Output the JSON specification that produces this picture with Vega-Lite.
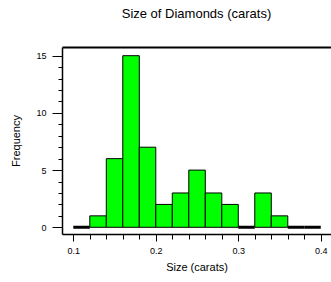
{
  "$schema": "https://vega.github.io/schema/vega-lite/v6.json",
  "autosize": "none",
  "padding": {"left": 62, "top": 47, "right": 0, "bottom": 48},
  "width": 269,
  "height": 187,
  "background": "white",
  "title": {"text": "Size of Diamonds (carats)", "fontSize": 13, "font": "Liberation Sans", "fontWeight": "normal", "color": "black", "anchor": "middle", "offset": 26},
  "config": {"view": {"stroke": null}, "axis": {"labelFont": "Liberation Sans", "titleFont": "Liberation Sans", "labelColor": "black", "titleColor": "black", "domainColor": "black", "tickColor": "black", "grid": false, "titleFontWeight": "normal"}},
  "data": {"values": [
    {"bin0": 0.10, "bin1": 0.12, "count": 0},
    {"bin0": 0.12, "bin1": 0.14, "count": 1},
    {"bin0": 0.14, "bin1": 0.16, "count": 6},
    {"bin0": 0.16, "bin1": 0.18, "count": 15},
    {"bin0": 0.18, "bin1": 0.20, "count": 7},
    {"bin0": 0.20, "bin1": 0.22, "count": 2},
    {"bin0": 0.22, "bin1": 0.24, "count": 3},
    {"bin0": 0.24, "bin1": 0.26, "count": 5},
    {"bin0": 0.26, "bin1": 0.28, "count": 3},
    {"bin0": 0.28, "bin1": 0.30, "count": 2},
    {"bin0": 0.30, "bin1": 0.32, "count": 0},
    {"bin0": 0.32, "bin1": 0.34, "count": 3},
    {"bin0": 0.34, "bin1": 0.36, "count": 1},
    {"bin0": 0.36, "bin1": 0.38, "count": 0},
    {"bin0": 0.38, "bin1": 0.40, "count": 0}
  ]},
  "layer": [
    {
      "mark": {"type": "bar", "fill": "#00FF00", "stroke": "black"},
      "encoding": {
        "x": {"field": "bin0", "type": "quantitative", "scale": {"domain": [0.0863, 0.4124], "nice": false, "zero": false},
          "axis": {"title": "Size (carats)", "titleFontSize": 11, "titlePadding": 6, "labelFontSize": 9, "labelPadding": 5, "format": ".1f",
            "values": [0.1, 0.12, 0.14, 0.16, 0.18, 0.2, 0.22, 0.24, 0.26, 0.28, 0.3, 0.32, 0.34, 0.36, 0.38, 0.4],
            "labelExpr": "abs(datum.value*10 - round(datum.value*10)) < 0.001 ? datum.label : ''",
            "tickSize": {"condition": {"test": "abs(datum.value*10 - round(datum.value*10)) < 0.001", "value": 7}, "value": 5},
            "domainWidth": 1.5}},
        "x2": {"field": "bin1"},
        "y": {"field": "count", "type": "quantitative", "scale": {"domain": [-0.586, 15.76], "nice": false, "zero": false},
          "axis": {"title": "Frequency", "titleFontSize": 11, "titlePadding": 14, "labelFontSize": 9, "labelPadding": 6, "labelOverlap": false,
            "values": [0, 1, 2, 3, 4, 5, 6, 7, 8, 9, 10, 11, 12, 13, 14, 15],
            "labelExpr": "datum.value % 5 === 0 ? datum.label : ''",
            "tickSize": {"condition": {"test": "datum.value % 5 === 0", "value": 10}, "value": 4},
            "domainWidth": 1.5}},
        "y2": {"datum": 0},
        "strokeWidth": {"condition": {"test": "datum.count === 0", "value": 3}, "value": 1}
      }
    },
    {
      "mark": {"type": "rule", "opacity": 0},
      "encoding": {
        "x": {"field": "bin0", "type": "quantitative", "axis": {"orient": "top", "title": null, "labels": false, "ticks": false, "domainWidth": 2}}
      }
    }
  ],
  "resolve": {"axis": {"x": "independent"}}
}
